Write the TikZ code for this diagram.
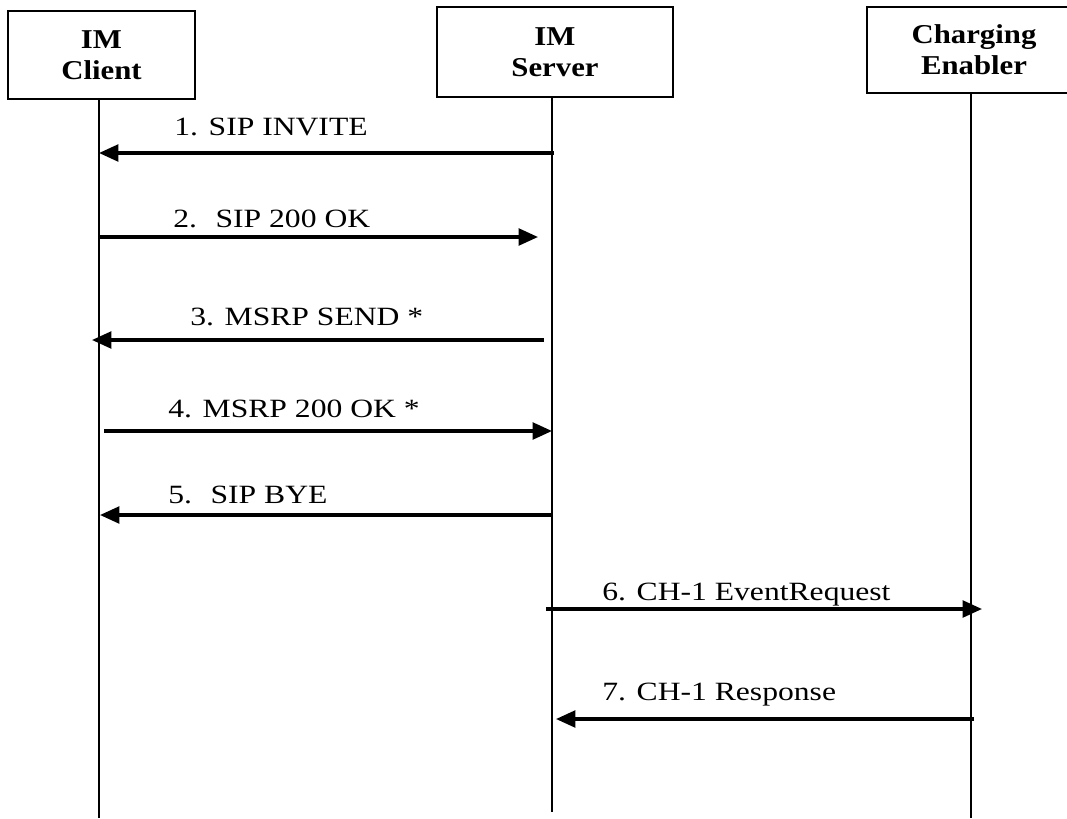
\documentclass[tikz,border=0pt]{standalone}
\usepackage{fontspec}
\setmainfont{Liberation Serif}
\usetikzlibrary{arrows.meta}
\tikzset{
  entity/.style={draw, line width=1.3pt, inner sep=0pt, align=center,
    font=\fontsize{15.5}{17.6}\selectfont\bfseries, xscale=1.13},
  life/.style={line width=1.1pt},
  msg/.style={line width=1.8pt, -{Triangle[length=11pt,width=9.5pt]}},
  msglabel/.style={anchor=base west, inner sep=0pt,
    font=\fontsize{15}{18}\selectfont, xscale=1.2}
}

\begin{document}
\begin{tikzpicture}[x=0.02cm,y=-0.02cm]
\useasboundingbox (0,0) rectangle (1067,818);
\node[entity, minimum width=3.31cm, minimum height=1.76cm] (client) at (101.5,55) {IM\\Client};
\node[entity, minimum width=4.18cm, minimum height=1.8cm] (server) at (555,52) {IM\\Server};
\node[entity, minimum width=3.79cm, minimum height=1.72cm] (charger) at (974,50) {Charging\\Enabler};
% lifelines
\coordinate (clx) at (99,818);
\coordinate (svx) at (552,812);
\coordinate (chx) at (971,818);
\draw[life] (client.south -| clx) -- (clx);
\draw[life] (server.south -| svx) -- (svx);
\draw[life] (charger.south -| chx) -- (chx);
% messages
\foreach \i/\y/\from/\to/\lx/\ly/\txt in {
    1/153/554/99/174/135/{1. SIP INVITE},
    2/237/99/538/173/227/{2.~ SIP 200 OK},
    3/340/544/92/190/325/{3. MSRP SEND *},
    4/431/104/552/168/417/{4. MSRP 200 OK *},
    5/515/553/100/168/503/{5.~ SIP BYE},
    6/609/546/982/602/600/{6. CH-1 EventRequest},
    7/719/974/556/602/700/{7. CH-1 Response}} {
  \coordinate (a\i) at (\from,\y);
  \coordinate (b\i) at (\to,\y);
  \draw[msg] (a\i) -- (b\i);
  \node[msglabel] (lab\i) at (\lx,\ly) {\txt};
}
\end{tikzpicture}
\end{document}
